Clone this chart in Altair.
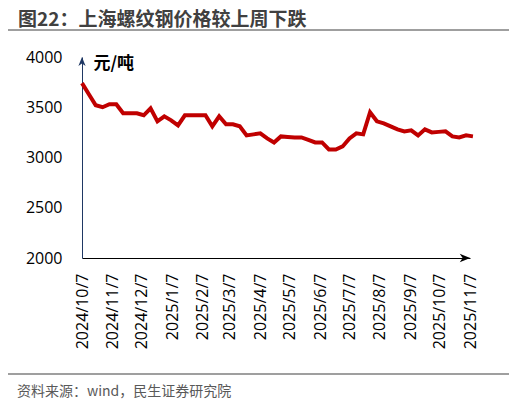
import altair as alt
import pandas as pd

# weekly Shanghai rebar price (yuan/ton)
dates = list(pd.date_range("2024-10-07", periods=58, freq="7D").strftime("%Y-%m-%d"))
prices = [
    3740, 3630, 3520, 3500, 3530, 3530, 3440, 3440, 3440, 3420,
    3490, 3360, 3410, 3370, 3320, 3420, 3420, 3420, 3420, 3310,
    3410, 3330, 3330, 3310, 3220, 3230, 3240, 3190, 3150, 3210,
    3205, 3200, 3200, 3175, 3150, 3150, 3080, 3080, 3110, 3190,
    3240, 3230, 3450, 3360, 3340, 3310, 3280, 3260, 3270, 3220,
    3280, 3250, 3255, 3260, 3210, 3200, 3220, 3210,
]
tick_dates = [
    "2024-10-07", "2024-11-07", "2024-12-07", "2025-01-07", "2025-02-07",
    "2025-03-07", "2025-04-07", "2025-05-07", "2025-06-07", "2025-07-07",
    "2025-08-07", "2025-09-07", "2025-10-07", "2025-11-07",
]
y_ticks = [2000, 2500, 3000, 3500, 4000]
title_text = "图22：上海螺纹钢价格较上周下跌"
source_text = "资料来源：wind，民生证券研究院"
unit_text = "元/吨"

df = pd.DataFrame({"date": dates, "price": prices})

W, H = 388, 201
NUM_FONT = "Open Sans"
CJK_FONT = "Noto Sans CJK SC"


def dt(s):
    y, m, d = map(int, s.split("-"))
    return alt.DateTime(year=y, month=m, date=d, utc=True)


x_enc = alt.X(
    "date:T",
    scale=alt.Scale(type="utc", domain=[dt(tick_dates[0]), dt(tick_dates[-1])]),
    axis=alt.Axis(
        values=[dt(s) for s in tick_dates],
        labelExpr="utcFormat(datum.value, '%Y/%-m/%-d')",
        labelAngle=270,
        labelPadding=15,
        labelFont=NUM_FONT,
        labelFontSize=16,
        labelColor="#000000",
        labelOverlap=False,
        ticks=False,
        grid=False,
        domainColor="#000000",
        domainWidth=1,
        title=None,
    ),
)
y_enc = alt.Y(
    "price:Q",
    scale=alt.Scale(domain=[2000, 4000], nice=False, zero=False),
    axis=alt.Axis(
        values=y_ticks,
        format="d",
        labelFont=NUM_FONT,
        labelFontSize=16,
        labelColor="#000000",
        labelPadding=20,
        ticks=False,
        grid=False,
        domainColor="#1F3864",
        domainWidth=1,
        title=unit_text,
        titleAngle=0,
        titleAlign="left",
        titleBaseline="middle",
        titleX=11,
        titleY=6,
        titleFont=CJK_FONT,
        titleFontSize=17,
        titleFontWeight="bold",
        titleColor="#000000",
    ),
)

line = alt.Chart(df).mark_line(color="#C00000", strokeWidth=4).encode(x=x_enc, y=y_enc)

one = pd.DataFrame({"k": [0]})

up_arrow = alt.Chart(one).mark_point(
    shape="M0,-1 L0.8,1 L0,0.45 L-0.8,1 Z", filled=True, size=81,
    color="#1F3864", opacity=1,
).encode(x=alt.value(0), y=alt.value(4.5))

right_arrow = alt.Chart(one).mark_point(
    shape="M1,0 L-1,-0.8 L-0.45,0 L-1,0.8 Z", filled=True, size=110,
    color="#000000", opacity=1,
).encode(x=alt.value(W - 5), y=alt.value(H))

title = alt.Chart(one).mark_text(
    text=title_text, font=CJK_FONT, fontSize=19, fontWeight="bold",
    color="#404040", align="left", baseline="middle",
).encode(x=alt.value(-64), y=alt.value(-37))

source = alt.Chart(one).mark_text(
    text=source_text, font=CJK_FONT, fontSize=14,
    color="#595959", align="left", baseline="middle",
).encode(x=alt.value(-65), y=alt.value(335))

top_rule = alt.Chart(one).mark_rule(color="#7F7F7F", strokeWidth=1.5).encode(
    x=alt.value(-77), x2=alt.value(430), y=alt.value(-27)
)
bottom_rule = alt.Chart(one).mark_rule(color="#7F7F7F", strokeWidth=1.5).encode(
    x=alt.value(-77), x2=alt.value(430), y=alt.value(317)
)

chart = (
    alt.layer(line, up_arrow, right_arrow, title, source, top_rule, bottom_rule)
    .properties(
        width=W,
        height=H,
        autosize=alt.AutoSizeParams(type="none"),
        padding={"left": 74, "top": 49, "right": 39, "bottom": 150},
        background="#FFFFFF",
    )
    .configure_view(stroke=None)
)

chart.save("out.html", embed_options={"renderer": "svg", "actions": False})
